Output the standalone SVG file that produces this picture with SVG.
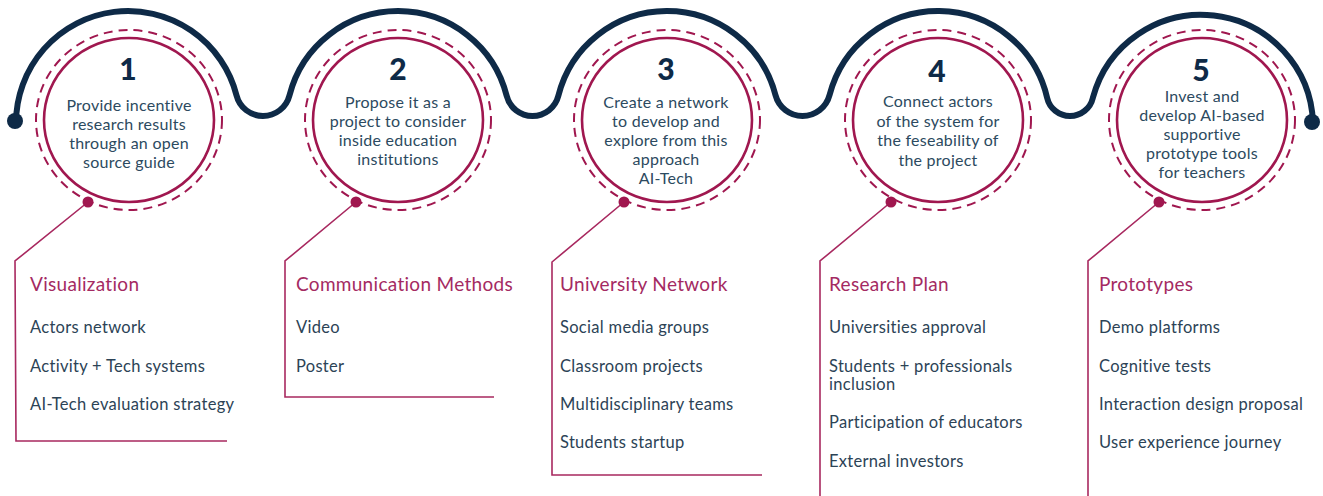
<svg xmlns="http://www.w3.org/2000/svg" width="1323" height="496" viewBox="0 0 1323 496">
<style>
.wave{fill:none;stroke:#0e2a47;stroke-width:6;stroke-linecap:round}
.end{fill:#0e2a47}
.ring{fill:none;stroke:#a0174f;stroke-width:2.6}
.dash{fill:none;stroke:#a0174f;stroke-width:2;stroke-dasharray:9 6}
.pin{fill:#a0174f}
.lead{fill:none;stroke:#a8285f;stroke-width:1.6}
.num{font-family:Lato,"Open Sans",sans-serif;font-weight:900;font-size:30px;fill:#0e2a47;text-anchor:middle}
.ct{font-family:Lato,"Open Sans",sans-serif;font-size:16px;letter-spacing:0.25px;fill:#2c4a60;text-anchor:middle}
.title{font-family:Lato,"Open Sans",sans-serif;font-size:19px;letter-spacing:0.3px;fill:#a42a62}
.item{font-family:Lato,"Open Sans",sans-serif;font-size:16.5px;letter-spacing:0.3px;fill:#2c4356}
</style>
<g id="timeline">
<path class="wave" d="M 16 123 A 112 112 0 0 1 236.55 95.43 A 27.29 27.29 0 0 0 289.45 95.43 A 112 112 0 0 1 506.65 95.83 A 26.64 26.64 0 0 0 558.35 95.83 A 112 112 0 0 1 775.45 95.04 A 27.93 27.93 0 0 0 829.55 95.04 A 112 112 0 0 1 1047.13 97.81 A 23.47 23.47 0 0 0 1092.87 97.81 A 112 112 0 0 1 1313 123"/>
<circle class="end" cx="15" cy="121" r="8"/>
<circle class="end" cx="1312" cy="122" r="8"/>
</g>
<g id="connectors">
<polyline class="lead" points="88,202 15,261 16,441 227,441"/>
<polyline class="lead" points="356,202 285,261 285,397 494,397"/>
<polyline class="lead" points="624,202 552,262 552,475 762,475"/>
<polyline class="lead" points="891,202 820,261 820,496"/>
<polyline class="lead" points="1159,202 1088,261 1088,496"/>
</g>
<g id="step1">
<ellipse class="ring" cx="129" cy="120" rx="85" ry="82"/>
<ellipse class="dash" cx="129" cy="120" rx="93" ry="90"/>
<circle class="pin" cx="88" cy="202" r="5.5"/>
<text class="num" x="128" y="80">1</text>
<text class="ct" x="129" y="111">Provide incentive</text>
<text class="ct" x="129" y="130">research results</text>
<text class="ct" x="129" y="149">through an open</text>
<text class="ct" x="129" y="168">source guide</text>
<text class="title" x="30" y="291">Visualization</text>
<text class="item" x="30" y="333">Actors network</text>
<text class="item" x="30" y="372">Activity + Tech systems</text>
<text class="item" x="30" y="410">AI-Tech evaluation strategy</text>
</g>
<g id="step2">
<ellipse class="ring" cx="398" cy="120" rx="85" ry="82"/>
<ellipse class="dash" cx="398" cy="120" rx="93" ry="90"/>
<circle class="pin" cx="356" cy="202" r="5.5"/>
<text class="num" x="398" y="80">2</text>
<text class="ct" x="398" y="108">Propose it as a</text>
<text class="ct" x="398" y="127">project to consider</text>
<text class="ct" x="398" y="146">inside education</text>
<text class="ct" x="398" y="165">institutions</text>
<text class="title" x="296" y="291">Communication Methods</text>
<text class="item" x="296" y="333">Video</text>
<text class="item" x="296" y="372">Poster</text>
</g>
<g id="step3">
<ellipse class="ring" cx="667" cy="120" rx="85" ry="82"/>
<ellipse class="dash" cx="667" cy="120" rx="93" ry="90"/>
<circle class="pin" cx="624" cy="202" r="5.5"/>
<text class="num" x="666" y="80">3</text>
<text class="ct" x="666" y="108">Create a network</text>
<text class="ct" x="666" y="127">to develop and</text>
<text class="ct" x="666" y="146">explore from this</text>
<text class="ct" x="666" y="165">approach</text>
<text class="ct" x="666" y="184">AI-Tech</text>
<text class="title" x="560" y="291">University Network</text>
<text class="item" x="560" y="333">Social media groups</text>
<text class="item" x="560" y="372">Classroom projects</text>
<text class="item" x="560" y="410">Multidisciplinary teams</text>
<text class="item" x="560" y="448">Students startup</text>
</g>
<g id="step4">
<ellipse class="ring" cx="938" cy="120" rx="85" ry="82"/>
<ellipse class="dash" cx="938" cy="120" rx="93" ry="90"/>
<circle class="pin" cx="891" cy="202" r="5.5"/>
<text class="num" x="937" y="82">4</text>
<text class="ct" x="938" y="107">Connect actors</text>
<text class="ct" x="938" y="127">of the system for</text>
<text class="ct" x="938" y="146">the feseability of</text>
<text class="ct" x="938" y="166">the project</text>
<text class="title" x="829" y="291">Research Plan</text>
<text class="item" x="829" y="333">Universities approval</text>
<text class="item" x="829" y="372">Students + professionals</text>
<text class="item" x="829" y="390">inclusion</text>
<text class="item" x="829" y="428">Participation of educators</text>
<text class="item" x="829" y="467">External investors</text>
</g>
<g id="step5">
<ellipse class="ring" cx="1202" cy="120" rx="85" ry="82"/>
<ellipse class="dash" cx="1202" cy="120" rx="93" ry="90"/>
<circle class="pin" cx="1159" cy="202" r="5.5"/>
<text class="num" x="1201" y="81">5</text>
<text class="ct" x="1202" y="102">Invest and</text>
<text class="ct" x="1202" y="121">develop AI-based</text>
<text class="ct" x="1202" y="140">supportive</text>
<text class="ct" x="1202" y="159">prototype tools</text>
<text class="ct" x="1202" y="178">for teachers</text>
<text class="title" x="1099" y="291">Prototypes</text>
<text class="item" x="1099" y="333">Demo platforms</text>
<text class="item" x="1099" y="372">Cognitive tests</text>
<text class="item" x="1099" y="410">Interaction design proposal</text>
<text class="item" x="1099" y="448">User experience journey</text>
</g>
</svg>
